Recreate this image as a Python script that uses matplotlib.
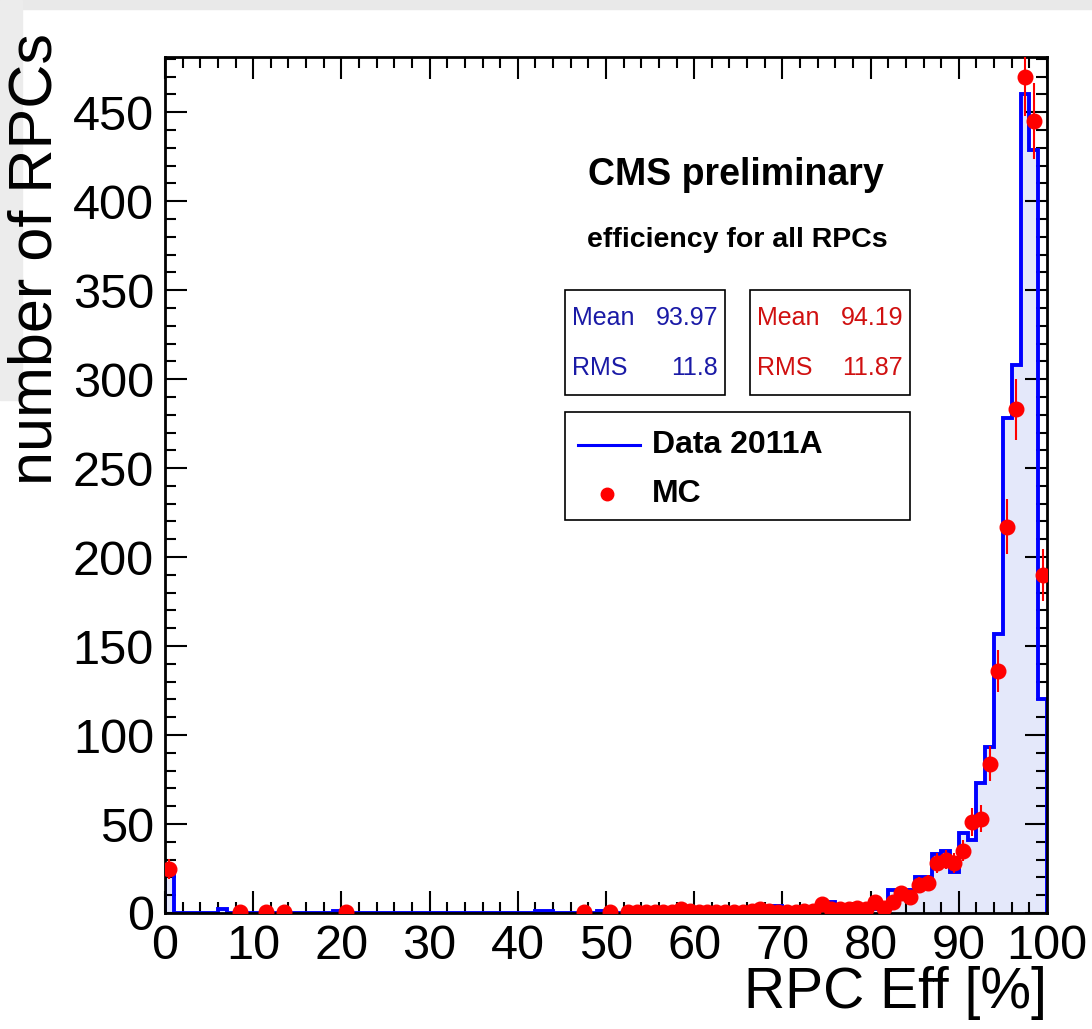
import numpy as np
import matplotlib.pyplot as plt
from matplotlib.patches import Rectangle
from matplotlib.lines import Line2D
from matplotlib.ticker import MultipleLocator

plt.rcParams['font.family'] = ['Liberation Sans', 'DejaVu Sans']

# Data 2011A : contenu des 100 bins (largeur 1 %)
bin_edges = np.arange(0, 101, 1)
data_counts = np.zeros(100)
data_counts[0] = 22
data_counts[6] = 2
data_counts[19] = 1
data_counts[42] = 1
data_counts[43] = 1
data_counts[49] = 1
data_counts[52:100] = [1, 0, 1, 1, 0, 1, 2, 1, 1, 0, 1, 1, 2, 1, 1, 2,
                       1, 4, 3, 0, 1, 2, 3, 6, 2, 3, 2, 3, 2, 5,
                       13, 13, 13, 20, 20, 33, 35, 23, 45, 41,
                       73, 93, 157, 278, 308, 460, 429, 120]

# MC : points avec barres d'erreur
mc_bins = [0, 8, 11, 13, 20, 47, 50] + list(range(52, 100))
mc_vals = [24.7, 0.5, 0.5, 0.5, 0.5, 0.5, 0.5,
           0.5, 0.5, 0.7, 0.5, 0.6, 0.5, 2.0, 1.0, 0.7, 0.5, 0.6, 0.5, 0.8, 0.6, 1.0, 2.0,
           1.0, 0.5, 0.5, 0.5, 1.0, 1.0, 5.0, 2.0, 2.0, 2.0, 3.0, 2.0, 6.0, 3.0,
           6.0, 11, 9, 16, 17, 28, 30, 28, 35, 51,
           53, 84, 136, 217, 283, 470, 445, 190]
mc_errs = [5.5, 0.7, 0.7, 0.7, 0.7, 0.7, 0.7,
           0.7, 0.7, 0.8, 0.7, 0.8, 0.7, 1.4, 1.0, 0.8, 0.7, 0.8, 0.7, 0.9, 0.8, 1.0, 1.4,
           1.0, 0.7, 0.7, 0.7, 1.0, 1.0, 2.2, 1.4, 1.4, 1.4, 1.7, 1.4, 2.5, 2.0,
           2.5, 3.5, 3.5, 4.5, 4.5, 5.5, 5.5, 5.5, 6.0, 8.0,
           7.5, 10, 12, 15.5, 17.3, 22, 21.5, 14.5]
mc_x = np.array(mc_bins) + 0.5

fig = plt.figure(figsize=(10.92, 10.29), dpi=100)
# bandeau gris du fond (capture d'ecran)
fig.patches.append(Rectangle((0, 1 - 9/1029), 1, 9/1029, transform=fig.transFigure,
                             color='#e9e9e9', zorder=-1))
fig.patches.append(Rectangle((0, 1 - 400/1029), 22/1092, 400/1029, transform=fig.transFigure,
                             color='#ececec', zorder=-1))

ax = fig.add_axes([165/1092, 116/1029, 882/1092, 856/1029])

ax.stairs(data_counts, bin_edges, fill=True, color='#e4e8fa', zorder=1)
ax.stairs(data_counts, bin_edges, color='#0000ff', lw=2.8, zorder=2)
ax.errorbar(mc_x, mc_vals, yerr=mc_errs, fmt='o', color='#ff0000', ms=10.5,
            elinewidth=1.5, capsize=0, zorder=3, clip_on=True)

ax.set_xlim(0, 100)
ax.set_ylim(0, 481)
ax.xaxis.set_major_locator(MultipleLocator(10))
ax.xaxis.set_minor_locator(MultipleLocator(2))
ax.yaxis.set_major_locator(MultipleLocator(50))
ax.yaxis.set_minor_locator(MultipleLocator(10))
ax.tick_params(which='both', direction='in', top=True, right=True, width=1.5)
ax.tick_params(which='major', length=16, labelsize=35, pad=8)
ax.tick_params(which='minor', length=8)
for s in ax.spines.values():
    s.set_linewidth(2)

ax.set_xlabel("RPC Eff [%]", fontsize=41)
ax.xaxis.set_label_coords(1.0, -0.062)
ax.xaxis.label.set_ha('right')
ax.set_ylabel("number of RPCs", fontsize=44)
ax.yaxis.set_label_coords(-0.114, 0.764)

# textes
ax.text(0.647, 0.862, "CMS preliminary", transform=ax.transAxes, ha='center',
        va='center', fontsize=27, fontweight='bold')
ax.text(0.6485, 0.786, "efficiency for all RPCs", transform=ax.transAxes, ha='center',
        va='center', fontsize=20.5, fontweight='bold')

# boites de statistiques
for (x0, x1, col, mean, rms) in [(0.4535, 0.635, '#1a1aa6', "93.97", "11.8"),
                                 (0.663, 0.845, '#d01010', "94.19", "11.87")]:
    ax.add_patch(Rectangle((x0, 0.605), x1 - x0, 0.123, transform=ax.transAxes,
                           fill=False, ec='black', lw=1.2, zorder=4))
    ax.text(x0 + 0.008, 0.695, "Mean", transform=ax.transAxes, color=col,
            fontsize=18, va='center', ha='left')
    ax.text(x1 - 0.008, 0.695, mean, transform=ax.transAxes, color=col,
            fontsize=18, va='center', ha='right')
    ax.text(x0 + 0.008, 0.637, "RMS", transform=ax.transAxes, color=col,
            fontsize=18, va='center', ha='left')
    ax.text(x1 - 0.008, 0.637, rms, transform=ax.transAxes, color=col,
            fontsize=18, va='center', ha='right')

# legende
ax.add_patch(Rectangle((0.4535, 0.459), 0.845 - 0.4535, 0.126, transform=ax.transAxes,
                       fill=False, ec='black', lw=1.2, zorder=4))
ax.add_line(Line2D([0.4683, 0.5385], [0.547, 0.547], transform=ax.transAxes,
                   color='#0000ff', lw=2.2))
ax.add_line(Line2D([0.5011], [0.4895], transform=ax.transAxes, marker='o',
                   color='#ff0000', ms=9, ls='none'))
ax.text(0.552, 0.547, "Data 2011A", transform=ax.transAxes, fontsize=23,
        fontweight='bold', va='center')
ax.text(0.552, 0.4895, "MC", transform=ax.transAxes, fontsize=23,
        fontweight='bold', va='center')

fig.savefig("out.png", dpi=100)
